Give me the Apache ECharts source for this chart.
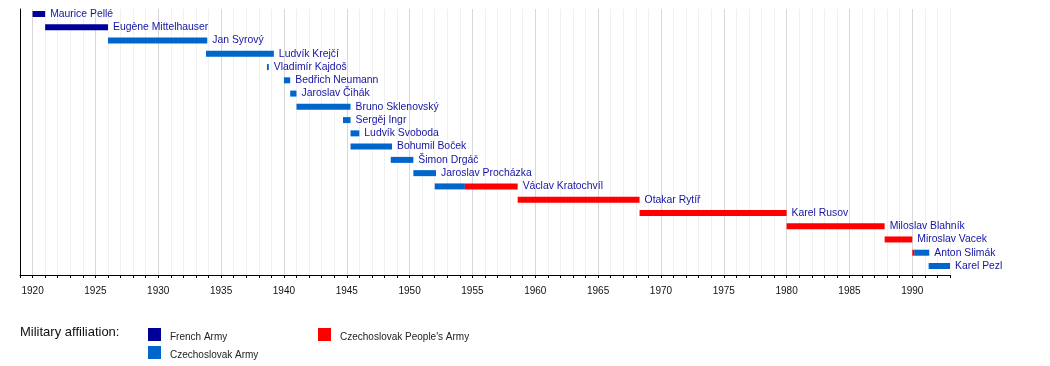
<!DOCTYPE html>
<html>
<head>
<meta charset="utf-8">
<script src="https://cdn.jsdelivr.net/npm/echarts@6/dist/echarts.min.js"></script>
<style>
html,body{margin:0;padding:0;background:#fff;}
#chart{width:1050px;height:366px;}
</style>
</head>
<body>
<div id="chart"></div>
<script>
// Commanders (rows, top to bottom)
const names = [
  'Maurice Pellé', 'Eugène Mittelhauser', 'Jan Syrový', 'Ludvík Krejčí', 'Vladimír Kajdoš',
  'Bedřich Neumann', 'Jaroslav Čihák', 'Bruno Sklenovský', 'Sergěj Ingr', 'Ludvík Svoboda',
  'Bohumil Boček', 'Šimon Drgáč', 'Jaroslav Procházka', 'Václav Kratochvíl', 'Otakar Rytíř',
  'Karel Rusov', 'Miloslav Blahník', 'Miroslav Vacek', 'Anton Slimák', 'Karel Pezl'
];
// Affiliations
const affiliations = ['French Army', 'Czechoslovak Army', "Czechoslovak People's Army"];
const affColors = ['#000099', '#0066CC', '#FF0000'];
// Term segments (row index, start year, end year, affiliation index)
const segRows   = [0, 1, 2, 3, 4, 5, 6, 7, 8, 9, 10, 11, 12, 13, 13, 14, 15, 16, 17, 18, 18, 19];
const segStarts = [1920.0, 1921.0, 1926.0, 1933.8, 1938.65, 1940.0, 1940.5, 1941.0, 1944.7, 1945.3, 1945.3, 1948.5, 1950.3, 1952.0, 1954.4, 1958.6, 1968.3, 1980.0, 1987.8, 1990.0, 1990.15, 1991.3];
const segEnds   = [1921.0, 1926.0, 1933.9, 1939.2, 1938.8, 1940.5, 1941.0, 1945.3, 1945.3, 1946.0, 1948.6, 1950.3, 1952.1, 1954.4, 1958.6, 1968.3, 1980.0, 1987.8, 1990.0, 1990.15, 1991.35, 1993.0];
const segAffs   = [0, 0, 1, 1, 1, 1, 1, 1, 1, 1, 1, 1, 1, 1, 2, 2, 2, 2, 2, 2, 1, 1];
// Axis tick labels
const yearMin = 1919, yearMax = 1993;
const tickLabels = [1920, 1925, 1930, 1935, 1940, 1945, 1950, 1955, 1960, 1965, 1970, 1975, 1980, 1985, 1990];

const chart = echarts.init(document.getElementById('chart'), null, {renderer: 'canvas'});

const FONT = 'Liberation Sans, Arial, sans-serif';
const BAR_H = 6;

function barRender(params, api) {
  const s = api.coord([api.value(0), api.value(2)]);
  const e = api.coord([api.value(1), api.value(2)]);
  return {
    type: 'rect',
    shape: {x: s[0], y: s[1] - BAR_H / 2, width: Math.max(e[0] - s[0], 1.2), height: BAR_H},
    style: {fill: api.visual('color')}
  };
}

const barSeries = affiliations.map((aff, ai) => ({
  name: aff,
  type: 'custom',
  renderItem: barRender,
  itemStyle: {color: affColors[ai]},
  encode: {x: [0, 1], y: 2},
  data: segRows.map((r, i) => segAffs[i] === ai ? [segStarts[i], segEnds[i], r] : null).filter(d => d),
  z: 3
}));

// label data: end of each row's last segment
const labelData = names.map((n, r) => {
  let end = -Infinity;
  segRows.forEach((sr, i) => { if (sr === r) end = Math.max(end, segEnds[i]); });
  return [end, r, n];
});

const labelSeries = {
  name: 'labels',
  type: 'custom',
  renderItem: function (params, api) {
    const p = api.coord([api.value(0), api.value(1)]);
    return {
      type: 'text',
      x: p[0] + 5,
      y: p[1],
      style: {
        text: labelData[params.dataIndex][2],
        fill: '#1414A4',
        fontSize: 10.4,
        fontFamily: FONT,
        align: 'left',
        verticalAlign: 'middle'
      }
    };
  },
  encode: {x: 0, y: 1},
  data: labelData.map(d => [d[0], d[1]]),
  z: 4
};

const minorC = '#f0f0f0', majorC = '#d8d8d8';

const legendText = {
  fontSize: 10, color: '#222', fontFamily: FONT,
  rich: {a: {fontSize: 10, color: '#222', fontFamily: FONT, padding: [5, 0, 0, 4]}}
};

chart.setOption({
  animation: false,
  backgroundColor: '#fff',
  title: {
    text: 'Military affiliation:',
    left: 20, top: 326, padding: 0,
    textStyle: {fontSize: 13, fontWeight: 'normal', color: '#111', fontFamily: FONT}
  },
  legend: [
    {
      data: ['French Army', 'Czechoslovak Army'],
      orient: 'vertical', left: 148, top: 328, padding: 0,
      itemWidth: 13, itemHeight: 13, itemGap: 4, icon: 'rect',
      selectedMode: false,
      formatter: '{a|{name}}',
      textStyle: legendText
    },
    {
      data: ["Czechoslovak People's Army"],
      orient: 'vertical', left: 318, top: 328, padding: 0,
      itemWidth: 13, itemHeight: 13, itemGap: 4, icon: 'rect',
      selectedMode: false,
      formatter: '{a|{name}}',
      textStyle: legendText
    }
  ],
  grid: {left: 20, right: 100, top: 9, bottom: 91, containLabel: false},
  xAxis: {
    type: 'value', position: 'bottom',
    min: yearMin, max: yearMax, interval: 1,
    axisLine: {show: true, onZero: false, lineStyle: {color: '#000', width: 1}},
    axisTick: {show: true, length: 3, lineStyle: {color: '#000'}},
    axisLabel: {
      show: true, margin: 11, fontSize: 10, color: '#111', fontFamily: FONT,
      formatter: v => tickLabels.indexOf(v) >= 0 ? String(v) : ''
    },
    splitLine: {show: true, lineStyle: {color: [minorC, majorC, minorC, minorC, minorC], width: 1}}
  },
  yAxis: {
    type: 'value', inverse: true, min: -0.377, max: 19.68,
    axisLine: {show: true, onZero: false, lineStyle: {color: '#000', width: 1}},
    axisTick: {show: false}, axisLabel: {show: false}, splitLine: {show: false}
  },
  series: barSeries.concat([labelSeries])
});
</script>
</body>
</html>
